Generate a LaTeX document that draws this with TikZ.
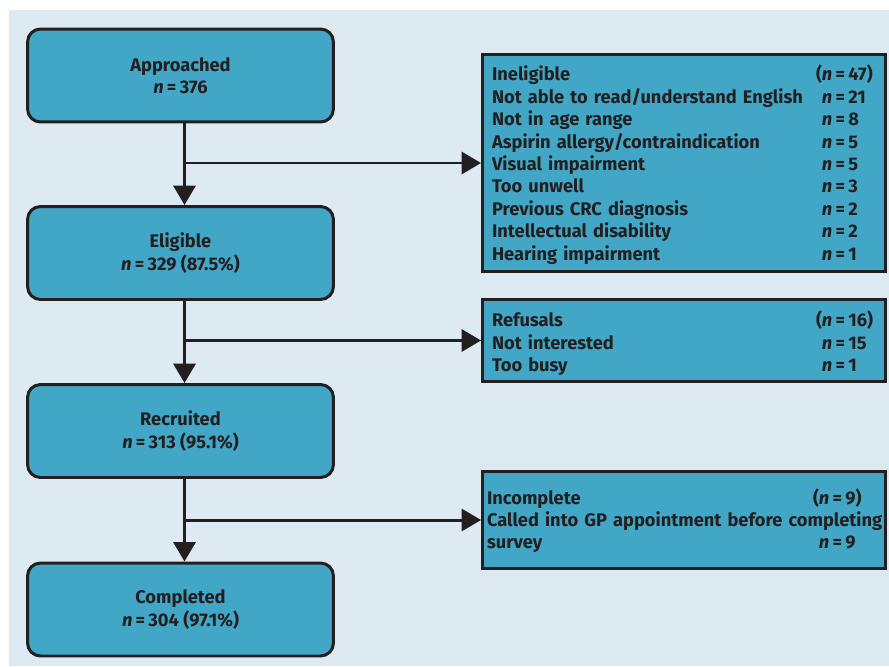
\documentclass[tikz,border=0pt]{standalone}
\usepackage{fontspec}
\setmainfont{Fira Sans}
\usetikzlibrary{arrows.meta}
\definecolor{panel}{RGB}{221,234,241}
\definecolor{boxfill}{RGB}{66,167,198}
\definecolor{ink}{RGB}{35,31,32}
\newcommand{\nval}[1]{\textit{n}\hspace{0.18em}=\hspace{0.18em}#1}
\newcommand{\sinkrows}[2]{\raisebox{-#1}[\height][\depth]{#2}}

\begin{document}
\begin{tikzpicture}[x=0.02cm, y=-0.02cm,
    every node/.style={font=\fontsize{10.4}{12.75}\selectfont\bfseries, text=ink},
    stage/.style={draw=ink, line width=1.7pt, fill=boxfill, rounded corners=0.26cm,
      minimum width=6.12cm, minimum height=1.86cm, align=center},
    reason/.style={draw=ink, line width=1.7pt, fill=boxfill, inner xsep=0.19cm,
      text width=7.68cm, align=left},
    flow/.style={draw=ink, line width=1.7pt, -{Triangle[length=11pt,width=12.5pt]}}]
  \useasboundingbox (0,0) rectangle (889,666);
  \fill[panel] (9,10) rectangle (889,666);

  % main stages
  \node[stage] (appr) at (180.5,75.5) {Approached\\\nval{376}};
  \node[stage] (elig) at (180.5,253) {Eligible\\\nval{329} (87.5\%)};
  \node[stage] (recr) at (180.5,431) {Recruited\\\nval{313} (95.1\%)};
  \node[stage] (comp) at (180.5,609.5) {Completed\\\nval{304} (97.1\%)};

  % exclusions
  \node[reason, minimum height=4.34cm] (inel) at (684,163) {\sinkrows{1.7pt}{%
    \begin{tabular}{@{}p{6.6cm}@{}l@{}}
      Ineligible & \llap{(}\nval{47}) \\
      Not able to read/understand English & \nval{21} \\
      Not in age range & \nval{8} \\
      Aspirin allergy/contraindication & \nval{5} \\
      Visual impairment & \nval{5} \\
      Too unwell & \nval{3} \\
      Previous CRC diagnosis & \nval{2} \\
      Intellectual disability & \nval{2} \\
      Hearing impairment & \nval{1}
    \end{tabular}}};
  \node[reason, minimum height=1.64cm] (refu) at (684,340.5) {\sinkrows{2.3pt}{%
    \begin{tabular}{@{}p{6.6cm}@{}l@{}}
      Refusals & \llap{(}\nval{16}) \\
      Not interested & \nval{15} \\
      Too busy & \nval{1}
    \end{tabular}}};
  \node[reason, minimum height=1.94cm, inner xsep=0.09cm, text width=7.88cm] (inco) at (684,520) {\sinkrows{1.1pt}{%
    \begin{tabular}{@{}p{6.64cm}@{}l@{}}
      Incomplete & \llap{(}\nval{9}) \\
      \multicolumn{2}{@{}l@{}}{Called into GP appointment before completing} \\
      survey & \nval{9}
    \end{tabular}}};

  % connectors
  \coordinate (trunk) at (184.5,0);
  \draw[flow] (appr.south -| trunk) -- (elig.north -| trunk);
  \draw[flow] (elig.south -| trunk) -- (recr.north -| trunk);
  \draw[flow] (recr.south -| trunk) -- (comp.north -| trunk);
  \draw[flow] (inel.west -| trunk) -- (inel.west);
  \draw[flow] (refu.west -| trunk) -- (refu.west);
  \draw[flow] (inco.west -| trunk) -- (inco.west);
\end{tikzpicture}
\end{document}
